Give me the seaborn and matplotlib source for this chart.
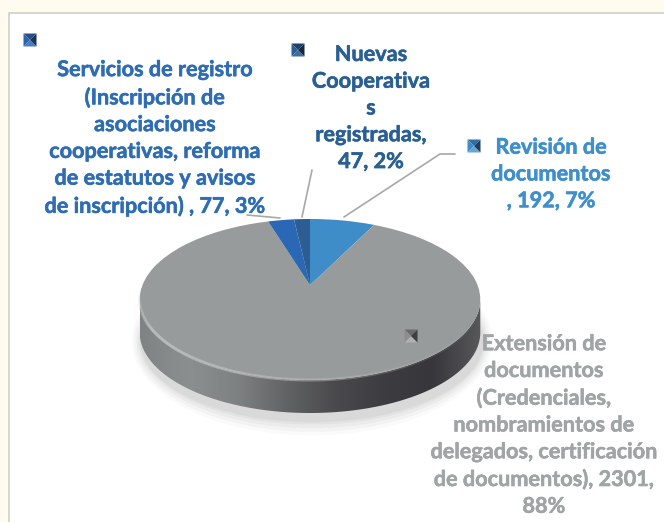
import numpy as np
import matplotlib
matplotlib.use("Agg")
import matplotlib.pyplot as plt
import seaborn as sns
import matplotlib.patheffects as pe
from matplotlib.transforms import Transform
from matplotlib.patches import Rectangle, Polygon, Ellipse
from matplotlib.collections import LineCollection
from matplotlib.colors import LinearSegmentedColormap

categories = ["Revisión de\ndocumentos\n, 192, 7%",
              "Extensión de\ndocumentos\n(Credenciales,\nnombramientos de\ndelegados, certificación\nde documentos), 2301,\n88%",
              "Servicios de registro\n(Inscripción de\nasociaciones\ncooperativas, reforma\nde estatutos y avisos\nde inscripción) , 77, 3%",
              "Nuevas\nCooperativa\ns\nregistradas,\n47, 2%"]
values = [192, 2301, 77, 47]
slice_colors = ["#3E8CC8", "#979B9B", "#2A68B5", "#2D5D92"]
label_colors = ["#3E8FCB", "#A0A4A4", "#2E6DB4", "#2A5F94"]

sns.set_theme(style="white")
plt.rcParams["font.family"] = ["Lato", "DejaVu Sans"]

W, H = 664, 522
fig = plt.figure(figsize=(W / 100, H / 100), dpi=100, facecolor="#FFFBEE")
ax = fig.add_axes([0, 0, 1, 1])

CX, CY, A, B, K = 310.0, 285.0, 167.5, 77.9, 0.18


class Persp(Transform):
    input_dims = output_dims = 2

    def transform_non_affine(self, v):
        v = np.asarray(v, float)
        d = 1 + K * v[:, 1]
        return np.column_stack([CX + A * v[:, 0] / d, CY - B * v[:, 1] / d])


wedges, _ = ax.pie(values, colors=sns.color_palette(slice_colors), startangle=90,
                   counterclock=False, radius=1, wedgeprops={"linewidth": 0})
P = Persp()
for w in wedges:
    w.set_transform(P + ax.transData)
    w.set_zorder(5)

ax.set_aspect("auto")
ax.set_xlim(0, W)
ax.set_ylim(H, 0)
ax.set_axis_off()

# panel
ax.add_patch(Rectangle((8.5, 12.5), W, H, fc="white", ec="#CFCFC9", lw=1.2, zorder=0))

t = np.linspace(0, 2 * np.pi, 361)
rim = P.transform_non_affine(np.column_stack([np.cos(t), np.sin(t)]))
DROP = 33

# soft shadow
for g, a in zip([12, 9, 6, 3, 1], [.035, .05, .06, .07, .08]):
    ax.add_patch(Ellipse((312, 306 + DROP + 2), 2 * 171 + g * 1.5, 2 * 80 + g * 2.4,
                         fc="#777777", ec="none", alpha=a, zorder=1))

# extruded wall with horizontal gradient
wall_cm = LinearSegmentedColormap.from_list(
    "wall", ["#808383", "#8C8F8F", "#7E8181", "#626365", "#4A4A4D", "#3D3D41", "#37373B", "#58585B"])
lower = rim[(rim[:, 1] >= 300)]
lower = lower[np.argsort(lower[:, 0])]
wall_poly = np.vstack([lower, (lower + [0, DROP])[::-1]])
bottom_fill = Polygon(wall_poly, closed=True, transform=ax.transData, fc="none", ec="none")
ax.add_patch(bottom_fill)
im = ax.imshow(np.linspace(0, 1, 256)[None, :], cmap=wall_cm, aspect="auto",
               extent=(rim[:, 0].min(), rim[:, 0].max(), 420, 290), zorder=3)
im.set_clip_path(bottom_fill)
ax.set_xlim(0, W)
ax.set_ylim(H, 0)

# bevel highlight along the rim
seg_t = np.linspace(0, 2 * np.pi, 241)
pts = P.transform_non_affine(np.column_stack([np.cos(seg_t), np.sin(seg_t)]))
segs = np.stack([pts[:-1], pts[1:]], axis=1)
cols = []
for s in segs:
    x, y = s.mean(axis=0)
    u = np.clip((x - 140) / 340, 0, 1)
    below = np.clip((y - 290) / 40, 0, 1)
    cols.append((0.76, 0.77, 0.77, 0.85 * below * (1 - u) ** 0.9))
ax.add_collection(LineCollection(segs, colors=cols, linewidths=2.2, zorder=6))

# leader lines
leaders = [[(344, 217), (440, 154), (455, 154)],
           [(302, 217), (312, 170)],
           [(280, 218), (247, 215)]]
for l in leaders:
    xs, ys = zip(*l)
    ax.plot(xs, ys, color="#A8A8A8", lw=1.2, zorder=2)


def marker(x, y, s, c_top, c_bot, c_l, c_r):
    h = s / 2
    c = (x, y)
    tl, tr, br, bl = (x - h, y - h), (x + h, y - h), (x + h, y + h), (x - h, y + h)
    for pts_, col in [([tl, tr, c], c_top), ([bl, br, c], c_bot), ([tl, bl, c], c_l), ([tr, br, c], c_r)]:
        ax.add_patch(Polygon(pts_, closed=True, fc=col, ec="none", zorder=7))


marker(30, 40, 13, "#2A4F85", "#4A7CC0", "#2E62AC", "#17345F")
marker(298, 50, 13, "#1E3F66", "#3C6E9E", "#2D5D92", "#14293F")
marker(474, 146, 13, "#2F6E9E", "#68A6D6", "#3E8CC8", "#1F3F5E")
marker(411, 336, 13, "#6A6C6C", "#B0B2B2", "#8C8E8E", "#3E3F40")

label_pos = [(551, 174), (544, 425), (155, 138), (371, 108)]
for txt, col, (x, y) in zip(categories, label_colors, label_pos):
    ax.text(x, y, txt, color=col, ha="center", va="center", fontsize=15.6,
            fontweight="bold", linespacing=1.34, zorder=8,
            path_effects=[pe.withStroke(linewidth=0.4, foreground=col)])

fig.savefig("out.png", dpi=100, facecolor=fig.get_facecolor())
